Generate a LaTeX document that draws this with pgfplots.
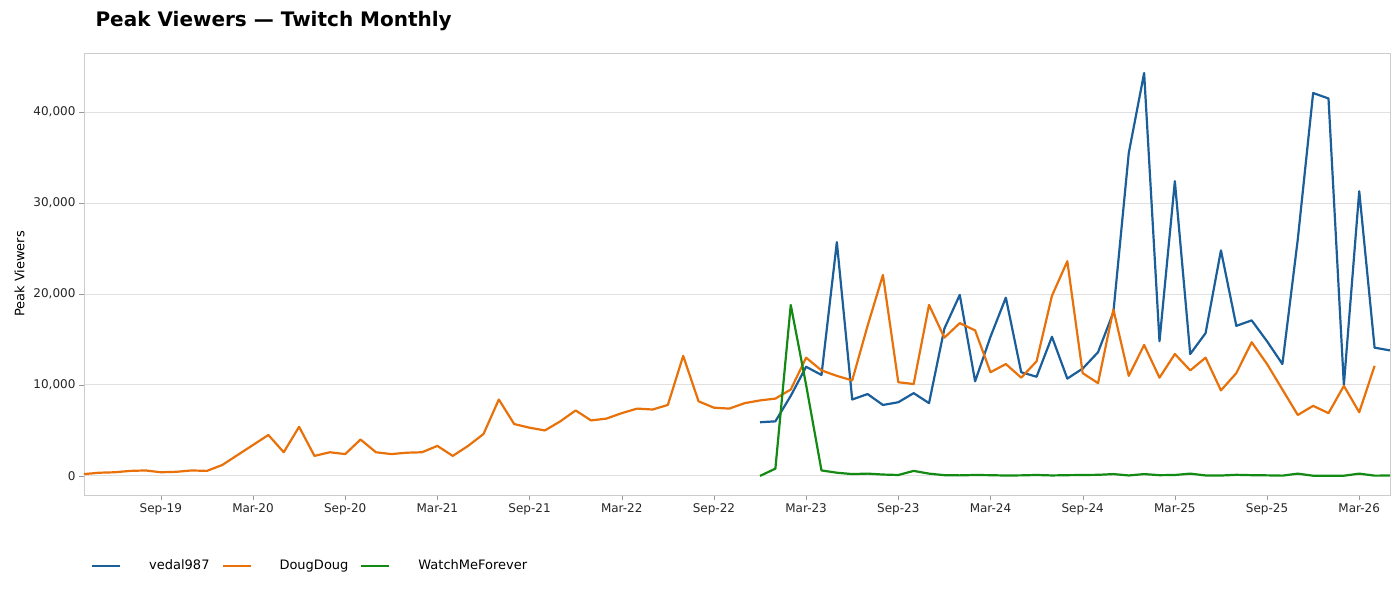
\documentclass[border=0pt]{standalone}
\usepackage{pgfplots}
\pgfplotsset{compat=1.18}
\usepackage{fontspec}
\setmainfont{DejaVu Sans}
\definecolor{cb}{HTML}{1A5E9A}
\definecolor{co}{HTML}{E8710A}
\definecolor{cg}{HTML}{138A13}
\begin{document}
\begin{tikzpicture}
\useasboundingbox (-84pt,-95pt) rectangle (1316pt,495pt);
\begin{axis}[
  scale only axis, width=1306pt, height=442pt,
  xmin=0, xmax=85, ymin=-2100, ymax=46500,
  scaled y ticks=false,
  axis line style={draw=black!20},
  ymajorgrids, grid style={black!12, line width=1pt},
  xtick={5,11,...,83},
  xticklabels={Sep-19,Mar-20,Sep-20,Mar-21,Sep-21,Mar-22,Sep-22,Mar-23,Sep-23,Mar-24,Sep-24,Mar-25,Sep-25,Mar-26},
  ytick={0,10000,20000,30000,40000},
  yticklabels={0,{10,000},{20,000},{30,000},{40,000}},
  tick style={black!40}, major tick length=5pt, tick align=outside,
  xtick pos=bottom, ytick pos=left,
  ticklabel style={font=\fontsize{12}{14}\selectfont, text=black!85},
  ylabel={Peak Viewers}, ylabel style={font=\fontsize{13}{15}\selectfont, yshift=2pt},
  title={\textbf{Peak Viewers — Twitch Monthly}},
  title style={font=\fontsize{20}{24}\selectfont, anchor=west, at={(0,1)}, xshift=8pt, yshift=26pt},
  legend columns=3,
  legend style={draw=none, fill=none, at={(0,-0.16)}, anchor=west, xshift=4pt, font=\fontsize{13}{15}\selectfont,
    /tikz/every even column/.append style={column sep=10pt},
    /tikz/every odd column/.append style={column sep=26pt}},
  legend image code/.code={\draw[#1, line width=2pt] (0cm,0cm) -- (28pt,0cm);},
  every axis plot/.append style={line width=2.2pt, line join=round},
]
\addplot[cb] coordinates {(44,5900)(45,6000)(46,8800)(47,12000)(48,11100)(49,25700)(50,8400)(51,9000)(52,7800)(53,8100)(54,9100)(55,8000)(56,16200)(57,19900)(58,10400)(59,15300)(60,19600)(61,11400)(62,10900)(63,15300)(64,10700)(65,11800)(66,13600)(67,18000)(68,35500)(69,44300)(70,14800)(71,32400)(72,13400)(73,15700)(74,24800)(75,16500)(76,17100)(77,14800)(78,12300)(79,26000)(80,42100)(81,41500)(82,10000)(83,31300)(84,14100)(85,13800)};
\addlegendentry{vedal987}
\addplot[co] coordinates {(0,200)(1,350)(2,400)(3,550)(4,600)(5,400)(6,450)(7,600)(8,550)(9,1200)(10,2300)(11,3400)(12,4500)(13,2600)(14,5400)(15,2200)(16,2600)(17,2400)(18,4000)(19,2600)(20,2400)(21,2550)(22,2600)(23,3300)(24,2200)(25,3300)(26,4600)(27,8400)(28,5700)(29,5300)(30,5000)(31,6000)(32,7200)(33,6100)(34,6300)(35,6900)(36,7400)(37,7300)(38,7800)(39,13200)(40,8200)(41,7500)(42,7400)(43,8000)(44,8300)(45,8500)(46,9500)(47,13000)(48,11600)(49,11000)(50,10500)(51,16500)(52,22100)(53,10300)(54,10100)(55,18800)(56,15200)(57,16800)(58,16000)(59,11400)(60,12300)(61,10800)(62,12600)(63,19800)(64,23600)(65,11300)(66,10200)(67,18300)(68,11000)(69,14400)(70,10800)(71,13400)(72,11600)(73,13000)(74,9400)(75,11300)(76,14700)(77,12300)(78,9500)(79,6700)(80,7700)(81,6900)(82,9900)(83,7000)(84,12100)};
\addlegendentry{DougDoug}
\addplot[cg] coordinates {(44,0)(45,800)(46,18800)(47,10000)(48,600)(49,350)(50,200)(51,250)(52,150)(53,100)(54,550)(55,250)(56,80)(57,60)(58,100)(59,80)(60,40)(61,60)(62,100)(63,50)(64,80)(65,100)(66,120)(67,200)(68,50)(69,200)(70,80)(71,100)(72,250)(73,50)(74,40)(75,120)(76,80)(77,60)(78,30)(79,250)(80,20)(81,20)(82,20)(83,250)(84,30)(85,40)};
\addlegendentry{WatchMeForever}
\end{axis}
\end{tikzpicture}
\end{document}
